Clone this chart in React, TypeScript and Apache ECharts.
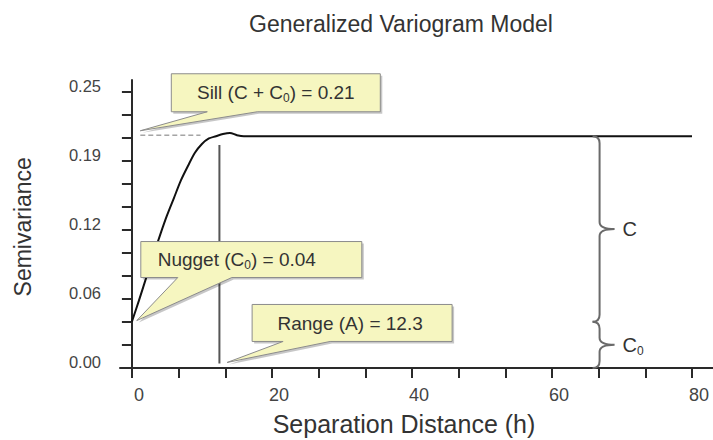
import React, { useEffect, useRef } from 'react';
import * as echarts from 'echarts';

const FONT = '"Liberation Sans", Arial, Helvetica, sans-serif';

// Fitted variogram curve
const distance = [0, 1, 2, 3, 4, 5, 6, 7, 8, 9, 10, 11, 12, 13, 14, 15, 16, 80];
const semivariance = [0.042, 0.061, 0.081, 0.101, 0.12, 0.138, 0.154, 0.17, 0.183, 0.195, 0.203, 0.208, 0.21, 0.212, 0.213, 0.211, 0.21, 0.21];

// Axis ticks and labels
const xLabelValues = [0, 20, 40, 60, 80];
const xTickValues = [0, 20 / 3, 40 / 3, 20, 80 / 3, 100 / 3, 40, 140 / 3, 160 / 3, 60, 200 / 3, 220 / 3, 80];
const yLabelValues = [0, 0.0625, 0.125, 0.1875, 0.25];
const yLabelTexts = ['0.00', '0.06', '0.12', '0.19', '0.25'];
const yTickValues = [0, 0.25 / 12, 0.5 / 12, 0.0625, 1 / 12, 1.25 / 12, 0.125, 1.75 / 12, 2 / 12, 0.1875, 2.5 / 12, 2.75 / 12, 0.25];

// Guide lines
const sillGuideX = [1.2, 9.8];
const sillGuideY = 0.211;
const rangeGuideX = 12.5;
const rangeGuideY = [0.004, 0.202];

// Callouts (tip points in data units)
const calloutTipX = [1.2, 0.7, 13.6];
const calloutTipY = [0.215, 0.043, 0.005];
const calloutText = [
  '{n|Sill (C + C}{s|0}{n|) = 0.21}',
  '{n|Nugget (C}{s|0}{n|) = 0.04}',
  '{n|Range (A) = 12.3}',
];

// Braces
const braceX = 66.8;
const braceTop = [0.21, 0.042];
const braceBottom = [0.042, 0];
const braceText = ['{n|C}', '{n|C}{s|0}'];

// Layout of callout boxes relative to tip (pixels)
const calloutLayout = [
  { left: 31, right: 240, top: -57, bottom: -19, base1: 67, base2: 117, textX: 135.5, textY: -38 },
  { left: 4, right: 225, top: -79, bottom: -43, base1: 41, base2: 95, textX: 100, textY: -61 },
  { left: 25, right: 225, top: -58, bottom: -21, base1: 56, base2: 103, textX: 123, textY: -39 },
];

const richSub = (size: number) => ({
  n: { fontSize: size, lineHeight: size + 4, fontFamily: FONT, fill: '#333' },
  s: { fontSize: Math.round(size * 0.62), lineHeight: Math.round(size * 0.62), verticalAlign: 'bottom', fontFamily: FONT, fill: '#333' },
});

export default function App() {
  const ref = useRef<HTMLDivElement>(null);
  useEffect(() => {
    document.body.style.margin = '0';
    if (!ref.current) return;
    const chart = echarts.init(ref.current, null, { renderer: 'svg' });
    const curve = distance.map((d, i) => [d, semivariance[i]]);
    const callouts = calloutTipX.map((x, i) => [x, calloutTipY[i], i]);
    const braces = braceTop.map((t, i) => [braceX, t, braceBottom[i], i]);

    const axisLineStyle = { color: '#2a2a2a', width: 2 };

    chart.setOption({
      animation: false,
      backgroundColor: '#ffffff',
      title: {
        text: 'Generalized Variogram Model',
        left: 401,
        top: 12,
        padding: 0,
        textAlign: 'center',
        textStyle: { fontFamily: FONT, fontSize: 23, fontWeight: 'normal', color: '#333' },
      },
      grid: { left: 120, right: 0, top: 80, bottom: 66.5, containLabel: false, outerBoundsMode: 'none' },
      xAxis: {
        type: 'value',
        min: -1.7,
        max: 83,
        name: 'Separation Distance (h)',
        nameLocation: 'middle',
        nameGap: 38,
        nameTextStyle: { fontFamily: FONT, fontSize: 25, color: '#333', padding: [0, 25, 0, 0] },
        axisLine: { show: true, onZero: true, lineStyle: axisLineStyle },
        axisTick: { show: true, customValues: xTickValues, length: 10, inside: false, lineStyle: axisLineStyle },
        axisLabel: {
          customValues: xLabelValues,
          fontFamily: FONT,
          fontSize: 18,
          color: '#444',
          margin: 12,
          padding: [0, 0, 0, 14],
          formatter: (v: number) => String(Math.round(v)),
        },
        splitLine: { show: false },
      },
      yAxis: {
        type: 'value',
        min: -0.005,
        max: 0.261,
        name: 'Semivariance',
        nameLocation: 'middle',
        nameGap: 86,
        nameRotate: 90,
        nameTextStyle: { fontFamily: FONT, fontSize: 23, color: '#333' },
        axisLine: { show: true, onZero: true, lineStyle: axisLineStyle },
        axisTick: { show: true, customValues: yTickValues, length: 10, inside: false, lineStyle: axisLineStyle },
        axisLabel: {
          customValues: yLabelValues,
          fontFamily: FONT,
          fontSize: 16.5,
          color: '#444',
          margin: 19,
          verticalAlign: 'bottom',
          lineHeight: 12,
          formatter: (v: number) => {
            const idx = yLabelValues.findIndex((y) => Math.abs(y - v) < 1e-9);
            return idx >= 0 ? yLabelTexts[idx] : '';
          },
        },
        splitLine: { show: false },
      },
      series: [
        {
          type: 'line',
          name: 'Sill guide',
          data: sillGuideX.map((x) => [x, sillGuideY]),
          showSymbol: false,
          lineStyle: { color: '#777', width: 1, type: [5, 3] },
          z: 2,
        },
        {
          type: 'line',
          name: 'Range guide',
          data: rangeGuideY.map((y) => [rangeGuideX, y]),
          showSymbol: false,
          lineStyle: { color: '#555', width: 2 },
          z: 2,
        },
        {
          type: 'line',
          name: 'Variogram',
          data: curve,
          showSymbol: false,
          smooth: 0.3,
          lineStyle: { color: '#111', width: 2 },
          z: 3,
        },
        {
          type: 'custom',
          name: 'Braces',
          data: braces,
          clip: false,
          z: 4,
          renderItem: (params: any, api: any) => {
            const i = api.value(3);
            const top = api.coord([api.value(0), api.value(1)]);
            const bot = api.coord([api.value(0), api.value(2)]);
            const x0 = top[0];
            const y1 = top[1];
            const y2 = bot[1];
            const ym = (y1 + y2) / 2;
            const h = 7;
            const tw = 15;
            const d = `M${x0 - h},${y1} Q${x0},${y1} ${x0},${y1 + h} L${x0},${ym - h} Q${x0},${ym} ${x0 + tw},${ym} Q${x0},${ym} ${x0},${ym + h} L${x0},${y2 - h} Q${x0},${y2} ${x0 - h},${y2}`;
            return {
              type: 'group',
              children: [
                { type: 'path', shape: { pathData: d }, style: { fill: 'none', stroke: '#6a6a6a', lineWidth: 2 } },
                {
                  type: 'text',
                  x: x0 + tw + 8,
                  y: ym,
                  style: { text: braceText[i], rich: richSub(20), align: 'left', verticalAlign: 'middle' },
                },
              ],
            };
          },
        },
        {
          type: 'custom',
          name: 'Callouts',
          data: callouts,
          clip: false,
          z: 5,
          renderItem: (params: any, api: any) => {
            const i = api.value(2);
            const tip = api.coord([api.value(0), api.value(1)]);
            const L = calloutLayout[i];
            const tx = tip[0];
            const ty = tip[1];
            const pts = [
              [tx + L.left, ty + L.top],
              [tx + L.right, ty + L.top],
              [tx + L.right, ty + L.bottom],
              [tx + L.base2, ty + L.bottom],
              [tx, ty],
              [tx + L.base1, ty + L.bottom],
              [tx + L.left, ty + L.bottom],
            ];
            return {
              type: 'group',
              children: [
                { type: 'polygon', shape: { points: pts.map((p) => [p[0] + 2, p[1] + 2]) }, style: { fill: 'rgba(0,0,0,0.22)' } },
                { type: 'polygon', shape: { points: pts }, style: { fill: '#F6F6C0', stroke: '#8c8c8c', lineWidth: 1 } },
                {
                  type: 'text',
                  x: tx + L.textX,
                  y: ty + L.textY,
                  style: { text: calloutText[i], rich: richSub(19), align: 'center', verticalAlign: 'middle' },
                },
              ],
            };
          },
        },
      ],
    });
    return () => chart.dispose();
  }, []);
  return <div ref={ref} style={{ width: 713, height: 440 }} />;
}
